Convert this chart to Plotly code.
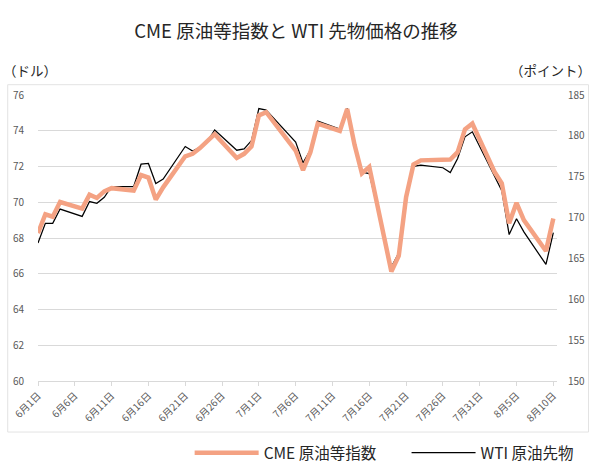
import plotly.graph_objects as go

dates = [
    "2021-06-01", "2021-06-02", "2021-06-03", "2021-06-04", "2021-06-07", "2021-06-08",
    "2021-06-09", "2021-06-10", "2021-06-11", "2021-06-14", "2021-06-15", "2021-06-16",
    "2021-06-17", "2021-06-18", "2021-06-21", "2021-06-22", "2021-06-23", "2021-06-24",
    "2021-06-25", "2021-06-28", "2021-06-29", "2021-06-30",
    "2021-07-01", "2021-07-02", "2021-07-06", "2021-07-07", "2021-07-08", "2021-07-09",
    "2021-07-12", "2021-07-13", "2021-07-14", "2021-07-15", "2021-07-16", "2021-07-19",
    "2021-07-20", "2021-07-21", "2021-07-22", "2021-07-23", "2021-07-26", "2021-07-27",
    "2021-07-28", "2021-07-29", "2021-07-30",
    "2021-08-02", "2021-08-03", "2021-08-04", "2021-08-05", "2021-08-06", "2021-08-09",
    "2021-08-10",
]

# WTI 原油先物 (ドル, left axis)
wti = [
    67.72, 68.82, 68.82, 69.62, 69.21, 70.04, 69.94, 70.28, 70.88, 70.88, 72.13, 72.17,
    71.05, 71.30, 73.12, 72.86, 73.08, 73.40, 74.04, 72.91, 72.98, 73.45,
    75.24, 75.15, 73.37, 72.20, 72.92, 74.54, 74.09, 75.25, 73.17, 71.68, 71.60, 66.38,
    67.16, 70.38, 72.01, 72.08, 71.93, 71.66, 72.45, 73.66, 73.94,
    71.45, 70.65, 68.19, 69.08, 68.34, 66.52, 68.30,
]

# CME 原油等指数 (ポイント, right axis)
cme = [
    168.1, 170.4, 170.1, 171.9, 171.1, 172.8, 172.4, 173.2, 173.6, 173.3, 175.2, 174.9,
    172.2, 173.7, 177.5, 177.8, 178.5, 179.3, 180.2, 177.3, 177.8, 178.7,
    182.5, 182.9, 178.2, 175.8, 178.0, 181.5, 180.6, 183.3, 178.9, 175.4, 176.2, 163.4,
    165.3, 172.5, 176.5, 177.0, 177.1, 177.1, 178.0, 180.8, 181.5,
    175.6, 174.2, 169.3, 171.8, 169.7, 165.9, 169.9,
]

tick_dates = [
    "2021-06-01", "2021-06-06", "2021-06-11", "2021-06-16", "2021-06-21", "2021-06-26",
    "2021-07-01", "2021-07-06", "2021-07-11", "2021-07-16", "2021-07-21", "2021-07-26",
    "2021-07-31", "2021-08-05", "2021-08-10",
]
tick_labels = [
    "6月1日", "6月6日", "6月11日", "6月16日", "6月21日", "6月26日",
    "7月1日", "7月6日", "7月11日", "7月16日", "7月21日", "7月26日",
    "7月31日", "8月5日", "8月10日",
]

title_text = "CME 原油等指数と WTI 先物価格の推移"
left_unit = "（ドル）"
right_unit = "（ポイント）"

FONT = "Noto Sans CJK JP, Noto Sans, sans-serif"
GRID = "#d9d9d9"
TICKC = "#595959"

fig = go.Figure()
fig.add_trace(go.Scatter(
    x=dates, y=cme, name="CME 原油等指数", yaxis="y2", mode="lines",
    line=dict(color="#F4A283", width=4.5), legend="legend",
))
fig.add_trace(go.Scatter(
    x=dates, y=wti, name="WTI 原油先物", yaxis="y", mode="lines",
    line=dict(color="#000000", width=1.25), legend="legend2",
))

W, H = 600, 474
L, R, T, B = 38.3, 557.5, 95.3, 381.0


def px_x(px):
    return (px - L) / (R - L)


def px_y(py):
    return (B - py) / (B - T)


legend_common = dict(
    orientation="h", xanchor="left", yanchor="middle",
    font=dict(size=15.5, color="#262626", family=FONT),
    itemwidth=64, bgcolor="rgba(0,0,0,0)",
)

fig.update_layout(
    width=W, height=H,
    margin=dict(l=L, r=W - R, t=T, b=H - B, pad=0, autoexpand=False),
    paper_bgcolor="white", plot_bgcolor="white",
    font=dict(family=FONT, color=TICKC),
    title=dict(text=title_text, x=296 / W, xanchor="center", y=1 - 32 / H, yanchor="middle",
               font=dict(size=18.5, color="#262626", family=FONT)),
    xaxis=dict(
        type="date",
        range=["2021-06-01", "2021-08-10 12:00"],
        tickvals=tick_dates, ticktext=tick_labels, tickangle=-45,
        tickfont=dict(size=10, color=TICKC),
        showgrid=False, showline=True, linecolor=GRID, linewidth=1,
        ticks="outside", ticklen=4, tickcolor=GRID,
        zeroline=False, fixedrange=True,
    ),
    yaxis=dict(
        range=[60, 76], dtick=2, tick0=60,
        tickfont=dict(size=10, color=TICKC),
        showgrid=True, gridcolor=GRID, gridwidth=1,
        zeroline=False, showline=False, ticks="", ticklabelstandoff=13,
    ),
    yaxis2=dict(
        range=[150, 185], dtick=5, tick0=150, overlaying="y", side="right",
        tickfont=dict(size=10, color=TICKC),
        showgrid=False, zeroline=False, showline=False, ticks="", ticklabelstandoff=10,
    ),
    legend=dict(x=px_x(190), y=px_y(453), **legend_common),
    legend2=dict(x=px_x(407), y=px_y(453), **legend_common),
    showlegend=True,
    shapes=[dict(
        type="rect", xref="paper", yref="paper",
        x0=px_x(8), x1=px_x(589), y0=px_y(432), y1=px_y(85),
        line=dict(color="#e3e3e3", width=1), fillcolor="rgba(0,0,0,0)", layer="below",
    )],
    annotations=[
        dict(text=left_unit, xref="paper", yref="paper", x=px_x(1), xanchor="left",
             y=px_y(70), yanchor="middle", showarrow=False,
             font=dict(size=13.5, color="#262626", family=FONT)),
        dict(text=right_unit, xref="paper", yref="paper", x=px_x(594), xanchor="right",
             y=px_y(70), yanchor="middle", showarrow=False,
             font=dict(size=13.5, color="#262626", family=FONT)),
    ],
)

fig.write_html("out.html", config={"displayModeBar": False},
               post_script="document.body.style.margin='0';")
